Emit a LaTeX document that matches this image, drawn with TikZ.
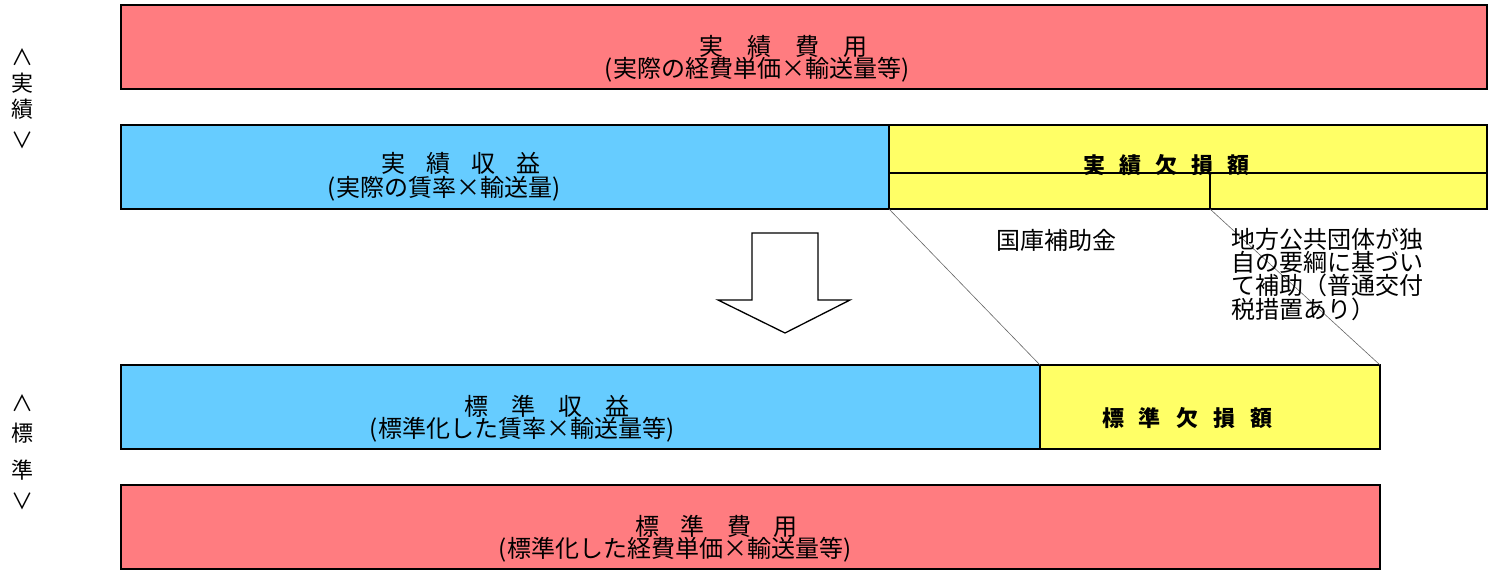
\documentclass[tikz,border=0pt]{standalone}
\usepackage{fontspec}
\setmainfont{Noto Sans CJK JP}
\definecolor{cred}{HTML}{FF7C80}
\definecolor{cblue}{HTML}{66CCFF}
\definecolor{cyel}{HTML}{FFFF66}
\tikzset{
  box/.style={draw=black, line width=1.6pt, anchor=north west, inner sep=0pt, outer sep=0pt},
  txt/.style={inner sep=0pt, font=\fontsize{24}{24}\selectfont, text height=16pt, text depth=4pt},
  btxt/.style={inner sep=0pt, font=\fontsize{22}{22}\selectfont\bfseries},
  side/.style={inner sep=0pt, font=\fontsize{22}{22}\selectfont},
  thin/.style={draw=gray!80!black, line width=0.6pt},
}
\begin{document}
\begin{tikzpicture}[x=1pt,y=-1pt]
\useasboundingbox (0,0) rectangle (1490,570);
% boxes
\node[box, fill=cred, minimum width=1366pt, minimum height=84pt] (redtop) at (121,5) {};
\node[box, fill=cblue, minimum width=768pt, minimum height=84pt] (blue1) at (121,125) {};
\node[box, fill=cyel, minimum width=598pt, minimum height=84pt] (yel1) at (889,125) {};
\node[box, fill=cblue, minimum width=919pt, minimum height=84pt] (blue2) at (121,365) {};
\node[box, fill=cyel, minimum width=340pt, minimum height=84pt] (yel2) at (1040,365) {};
\node[box, fill=cred, minimum width=1259pt, minimum height=84pt] (redbot) at (121,485) {};
% subdivisions of top yellow box
\coordinate (ymidL) at (889,173);
\coordinate (ymidR) at (1487,173);
\coordinate (ysplit) at (1210,173);
\coordinate (ysplitB) at (1210,209);
\draw[line width=1.3pt] (ymidL) -- (ymidR);
\draw[line width=1.3pt] (ysplit) -- (ysplitB);
% thin connector lines
\draw[thin] (yel1.south west) -- (yel2.north west);
\draw[thin] (ysplitB) -- (yel2.north east);
% texts in boxes
\node[txt] (t1a) at (783,49) {実\hspace{24pt}績\hspace{24pt}費\hspace{24pt}用};
\node[txt] (t1b) at (757,71) {(実際の経費単価×輸送量等)};
\node[txt] (t2a) at (461,166) {実\hspace{21pt}績\hspace{21pt}収\hspace{21pt}益};
\node[txt] (t2b) at (444,190) {(実際の賃率×輸送量)};
\node[btxt] (t3) at (1166,165) {実\hspace{14pt}績\hspace{14pt}欠\hspace{14pt}損\hspace{14pt}額};
\node[txt] (t4a) at (547,409) {標\hspace{23pt}準\hspace{23pt}収\hspace{23pt}益};
\node[txt] (t4b) at (522,431) {(標準化した賃率×輸送量等)};
\node[btxt] (t5) at (1187,418) {標\hspace{15pt}準\hspace{15pt}欠\hspace{15pt}損\hspace{15pt}額};
\node[txt] (t6a) at (716,529) {標\hspace{22pt}準\hspace{22pt}費\hspace{22pt}用};
\node[txt] (t6b) at (675,551) {(標準化した経費単価×輸送量等)};
% labels below top yellow box
\node[inner sep=0pt, font=\fontsize{24}{24}\selectfont, anchor=west] (kokko) at (996,240) {国庫補助金};
\node[inner sep=0pt, anchor=north west, align=left, font=\fontsize{24}{22.5}\selectfont] (chiho) at (1231,228)
  {地方公共団体が独\\自の要綱に基づい\\て補助（普通交付\\税措置あり）};
% arrow
\node[coordinate] (aTL) at (752,233) {};
\node[coordinate] (aTR) at (818,233) {};
\node[coordinate] (aSR) at (818,300) {};
\node[coordinate] (aHR) at (850,300) {};
\node[coordinate] (aTip) at (785,333) {};
\node[coordinate] (aHL) at (718,300) {};
\node[coordinate] (aSL) at (752,300) {};
\draw[line width=1.3pt, fill=white, line join=miter] (aTL) -- (aTR) -- (aSR) -- (aHR) -- (aTip) -- (aHL) -- (aSL) -- cycle;
% side labels
\node[side] (s1) at (22,57) {∧};
\node[side] (s2) at (22,83) {実};
\node[side] (s3) at (22,109) {績};
\node[side] (s4) at (22,140) {∨};
\node[side] (s5) at (22,403) {∧};
\node[side] (s6) at (22,433) {標};
\node[side] (s7) at (22,470) {準};
\node[side] (s8) at (22,501) {∨};
\end{tikzpicture}
\end{document}
